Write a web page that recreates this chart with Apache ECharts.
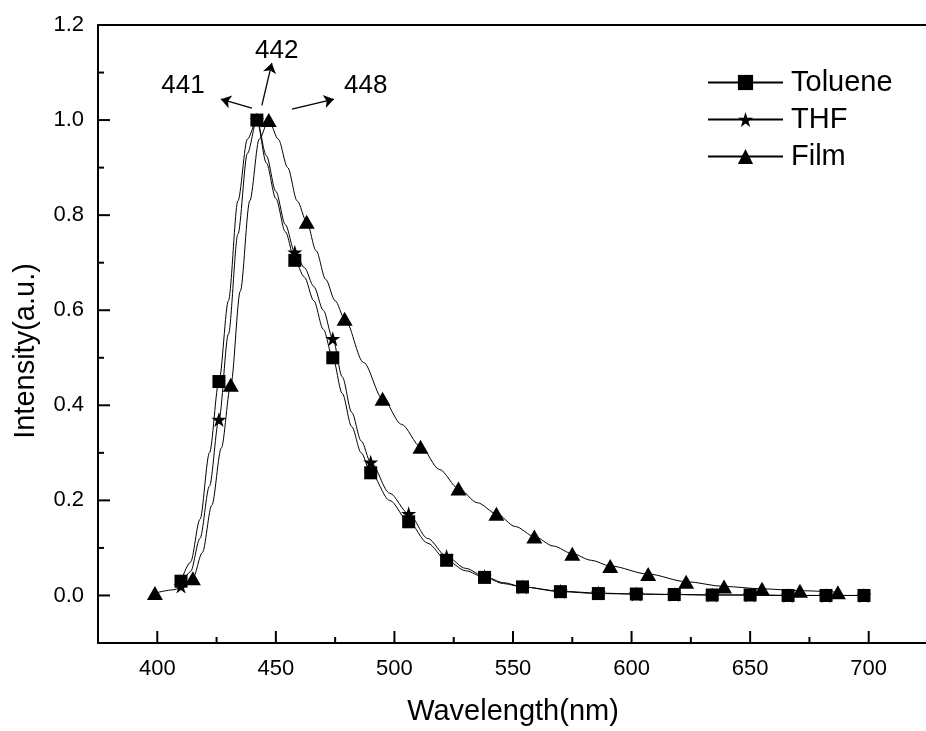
<!DOCTYPE html>
<html>
<head>
<meta charset="utf-8">
<script src="https://cdn.jsdelivr.net/npm/echarts@6/dist/echarts.min.js"></script>
<style>
  html, body { margin: 0; padding: 0; background: #fff; }
  #chart { width: 926px; height: 731px; }
</style>
</head>
<body>
<div id="chart"></div>
<script>
// curve points: [wavelength, intensity]
var toluenePts = [
    [410, 0.030], [414, 0.070], [418, 0.160], [422, 0.300], [426, 0.450], [430, 0.620],
    [434, 0.830], [438, 0.960], [442, 1.000], [446, 0.910], [450, 0.835], [454, 0.765],
    [458, 0.705], [462, 0.670], [466, 0.620], [470, 0.560], [474, 0.500], [478, 0.425],
    [482, 0.355], [486, 0.300], [490, 0.258], [498, 0.200], [506, 0.155], [514, 0.110],
    [522, 0.074], [530, 0.052], [538, 0.038], [546, 0.025], [554, 0.018], [570, 0.008],
    [586, 0.004], [602, 0.003], [618, 0.002], [634, 0.001], [650, 0.001], [666, 0.000],
    [682, 0.000], [698, 0.000]
];
var thfPts = [
    [410, 0.020], [414, 0.050], [418, 0.120], [422, 0.230], [426, 0.370], [430, 0.550],
    [434, 0.760], [438, 0.930], [442, 1.000], [446, 0.925], [450, 0.850], [454, 0.780],
    [458, 0.722], [462, 0.690], [466, 0.650], [470, 0.600], [474, 0.540], [478, 0.460],
    [482, 0.385], [486, 0.325], [490, 0.280], [498, 0.215], [506, 0.172], [514, 0.120],
    [522, 0.082], [530, 0.057], [538, 0.040], [546, 0.027], [554, 0.018], [570, 0.009],
    [586, 0.005], [602, 0.003], [618, 0.002], [634, 0.001], [650, 0.001], [666, 0.000],
    [682, 0.000], [698, 0.000]
];
var filmPts = [
    [399, 0.005], [407, 0.012], [411, 0.020], [415, 0.036], [419, 0.090], [423, 0.190],
    [427, 0.310], [431, 0.443], [435, 0.640], [439, 0.830], [443, 0.960], [447, 1.000],
    [451, 0.960], [455, 0.900], [459, 0.830], [463, 0.786], [467, 0.725], [471, 0.665],
    [475, 0.620], [479, 0.582], [487, 0.490], [495, 0.414], [503, 0.360], [511, 0.313],
    [519, 0.265], [527, 0.225], [535, 0.195], [543, 0.172], [551, 0.145], [559, 0.124],
    [567, 0.104], [575, 0.088], [583, 0.074], [591, 0.062], [607, 0.045], [623, 0.029],
    [639, 0.019], [655, 0.014], [671, 0.010], [687, 0.007]
];
// wavelengths where a symbol is drawn
var tolueneMarks = [410, 426, 442, 458, 474, 490, 506, 522, 538, 554, 570, 586, 602, 618, 634, 650, 666, 682, 698];
var thfMarks = tolueneMarks;
var filmMarks = [399, 415, 431, 447, 463, 479, 495, 511, 527, 543, 559, 575, 591, 607, 623, 639, 655, 671, 687];

var xRange = [375, 725];
var yRange = [-0.1, 1.2];
var xMajor = [400, 450, 500, 550, 600, 650, 700];
var xMinor = [425, 475, 525, 575, 625, 675];
var yMajor = [0, 0.2, 0.4, 0.6, 0.8, 1.0, 1.2];
var yMinor = [0.1, 0.3, 0.5, 0.7, 0.9, 1.1];

// peak annotations: text, text position, arrow start, arrow end
var peakLabels = [
    { text: '441', at: [410.8, 1.071], from: [439.9, 1.025], to: [426.8, 1.044] },
    { text: '442', at: [450.4, 1.145], from: [444.1, 1.031], to: [448.3, 1.120] },
    { text: '448', at: [487.9, 1.071], from: [456.8, 1.023], to: [474.5, 1.044] }
];

var FONT = '"Liberation Sans", Arial, sans-serif';
var STAR = 'path://M0,-1 L0.2245,-0.309 L0.951,-0.309 L0.363,0.118 L0.588,0.809 L0,0.382 L-0.588,0.809 L-0.363,0.118 L-0.951,-0.309 L-0.2245,-0.309 Z';
var MAJOR_LEN = 12, MINOR_LEN = 6;

function buildData(pts, marks) {
    return pts.map(function (p) {
        if (marks.indexOf(p[0]) >= 0) return { value: p };
        return { value: p, symbol: 'none' };
    });
}

function lineSeries(name, pts, marks, symbol, size) {
    return {
        name: name,
        type: 'line',
        data: buildData(pts, marks),
        symbol: symbol,
        symbolSize: size,
        showAllSymbol: true,
        smooth: 0.3,
        smoothMonotone: 'x',
        lineStyle: { color: '#000', width: 1 },
        itemStyle: { color: '#000' },
        emphasis: { disabled: true }
    };
}

// tick marks: [value, length, 0 = x axis / 1 = y axis]
var tickData = []
    .concat(xMajor.map(function (v) { return [v, MAJOR_LEN, 0]; }))
    .concat(xMinor.map(function (v) { return [v, MINOR_LEN, 0]; }))
    .concat(yMajor.map(function (v) { return [v, MAJOR_LEN, 1]; }))
    .concat(yMinor.map(function (v) { return [v, MINOR_LEN, 1]; }));

var chart = echarts.init(document.getElementById('chart'));

var series = [
    lineSeries('Toluene', toluenePts, tolueneMarks, 'rect', 13),
    lineSeries('THF', thfPts, thfMarks, STAR, 15),
    lineSeries('Film', filmPts, filmMarks, 'triangle', [16, 14])
];

// arrows and numbers sit on the last series
series[2].markLine = {
    silent: true,
    animation: false,
    label: { show: false },
    lineStyle: { color: '#000', width: 1.3, type: 'solid' },
    data: peakLabels.map(function (a) {
        return [
            { coord: a.from, symbol: 'none' },
            { coord: a.to, symbol: 'arrow', symbolSize: 10 }
        ];
    })
};
series[2].markPoint = {
    silent: true,
    animation: false,
    data: peakLabels.map(function (a) {
        return {
            coord: a.at,
            symbol: 'rect',
            symbolSize: 1,
            itemStyle: { color: 'transparent' },
            label: {
                show: true, position: 'inside', formatter: a.text,
                color: '#000', fontSize: 26, fontFamily: FONT
            }
        };
    })
};

// inward tick marks, placed through the axes' own scales
series.push({
    type: 'custom',
    name: 'ticks',
    silent: true,
    clip: false,
    z: 5,
    data: tickData,
    renderItem: function (params, api) {
        var v = api.value(0), len = api.value(1), dir = api.value(2);
        var p, shape;
        if (dir === 0) {
            p = api.coord([v, yRange[0]]);
            shape = { x1: p[0], y1: p[1], x2: p[0], y2: p[1] - len };
        } else {
            p = api.coord([xRange[0], v]);
            shape = { x1: p[0], y1: p[1], x2: p[0] + len, y2: p[1] };
        }
        return { type: 'line', shape: shape, style: { stroke: '#000', lineWidth: 2 } };
    }
});

var option = {
    animation: false,
    grid: { left: 98, right: -2, top: 25, bottom: 88, outerBoundsMode: 'none' },
    legend: {
        orient: 'vertical',
        left: 707,
        top: 68,
        padding: 0,
        itemWidth: 75,
        itemHeight: 19,
        itemGap: 8,
        selectedMode: false,
        textStyle: { color: '#000', fontSize: 29, fontFamily: FONT, lineHeight: 28, padding: [0, 0, 0, 3] },
        data: ['Toluene', 'THF', 'Film']
    },
    xAxis: [
        {
            type: 'value', min: xRange[0], max: xRange[1], position: 'bottom',
            axisLine: { show: true, onZero: false, lineStyle: { color: '#000', width: 2 } },
            axisTick: { show: false },
            axisLabel: { customValues: xMajor, color: '#000', fontSize: 22, fontFamily: FONT, margin: 15 },
            splitLine: { show: false },
            name: 'Wavelength(nm)', nameLocation: 'middle', nameGap: 54,
            nameTextStyle: { color: '#000', fontSize: 29, fontFamily: FONT }
        },
        {
            type: 'value', min: xRange[0], max: xRange[1], position: 'top',
            axisLine: { show: true, onZero: false, lineStyle: { color: '#000', width: 2 } },
            axisTick: { show: false },
            axisLabel: { show: false },
            splitLine: { show: false }
        }
    ],
    yAxis: {
        type: 'value', min: yRange[0], max: yRange[1], position: 'left',
        axisLine: { show: true, onZero: false, lineStyle: { color: '#000', width: 2 } },
        axisTick: { show: false },
        axisLabel: {
            customValues: yMajor, color: '#000', fontSize: 22, fontFamily: FONT, margin: 14,
            formatter: function (v) { return v.toFixed(1); }
        },
        splitLine: { show: false },
        name: 'Intensity(a.u.)', nameLocation: 'middle', nameGap: 58,
        nameTextStyle: { color: '#000', fontSize: 29, fontFamily: FONT, padding: [0, 34, 0, 0] }
    },
    series: series
};

chart.setOption(option);
</script>
</body>
</html>
